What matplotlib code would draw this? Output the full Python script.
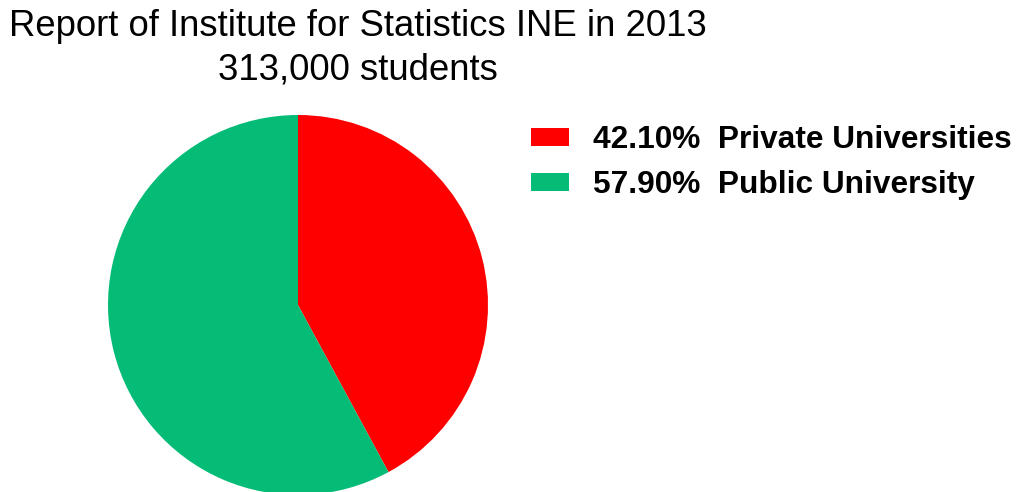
import matplotlib
matplotlib.use("Agg")
from matplotlib import pyplot as plt

# data
sectors = ["Private Universities", "Public University"]
shares = [42.10, 57.90]
colors = ["#ff0000", "#04bc76"]
title_lines = ["Report of Institute for Statistics INE in 2013", "313,000 students"]

plt.rcParams["font.family"] = ["Liberation Sans", "DejaVu Sans"]

W, H = 1018, 492
fig = plt.figure(figsize=(W / 100, H / 100), dpi=100)

# pie axes placed in pixel terms: center (298, 305), radius 190
cx, cy, r = 298, 305, 190
ax = fig.add_axes([(cx - r) / W, (H - cy - r) / H, 2 * r / W, 2 * r / H])
wedges, _ = ax.pie(shares, colors=colors, startangle=90, counterclock=False,
                   radius=1, wedgeprops=dict(linewidth=0))
ax.set_xlim(-1, 1)
ax.set_ylim(-1, 1)
ax.set_aspect("equal")
ax.axis("off")

fig.text(358 / W, 1 - 27 / H, title_lines[0], ha="center", va="center", fontsize=26.3)
fig.text(358 / W, 1 - 70 / H, title_lines[1], ha="center", va="center", fontsize=26.3)

labels = [f"{v:.2f}%  {s}" for v, s in zip(shares, sectors)]
fig.legend(wedges, labels, loc="upper left", bbox_to_anchor=(531 / W, 1 - 125 / H),
           frameon=False, borderpad=0, borderaxespad=0,
           prop=dict(size=22.8, weight="bold"),
           handlelength=1.2, handleheight=0.48, handletextpad=0.76, labelspacing=0.48)

fig.savefig("out.png", dpi=100)
